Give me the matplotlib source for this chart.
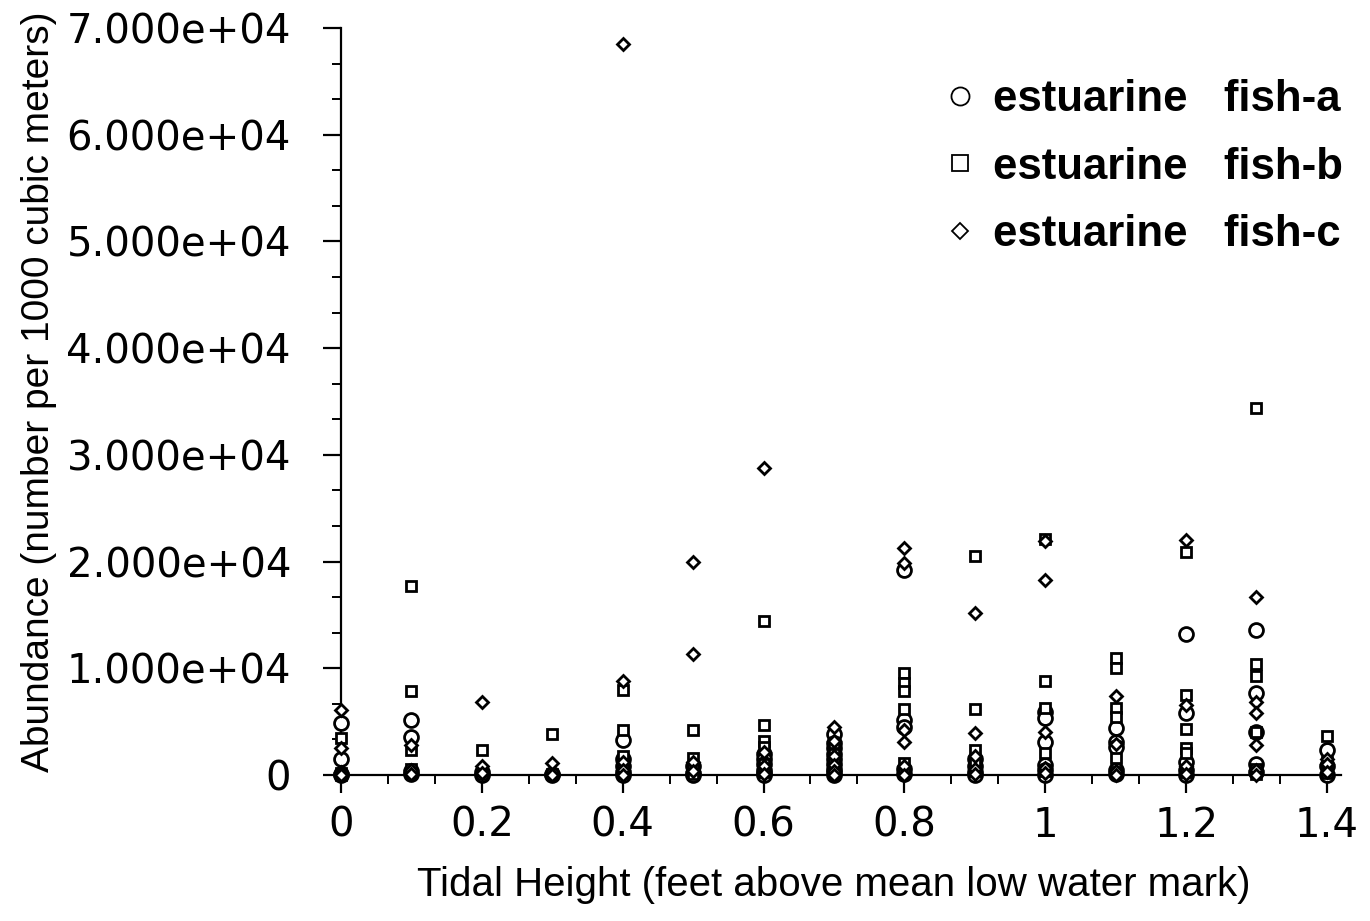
import matplotlib
matplotlib.use("Agg")
import matplotlib.pyplot as plt
from matplotlib.lines import Line2D
from matplotlib.ticker import MultipleLocator, FuncFormatter, FixedLocator

# ---- data (tidal height in feet, abundance per 1000 m^3) ----
fish_a = {
    0.0: [4900, 1500, 100, 0],
    0.1: [5200, 3600, 400, 100],
    0.2: [300, 0],
    0.3: [100, 0],
    0.4: [3300, 1500, 800, 300, 0],
    0.5: [800, 200, 0],
    0.6: [2000, 1500, 1000, 500, 200, 0],
    0.7: [3800, 3000, 2500, 2000, 1500, 1000, 600, 300, 0],
    0.8: [19200, 5200, 4500, 600, 100],
    0.9: [1500, 800, 300, 0],
    1.0: [5900, 5300, 3100, 900, 500, 0],
    1.1: [4400, 3100, 2600, 500, 100],
    1.2: [13200, 5800, 1200, 500, 0],
    1.3: [13600, 7700, 4000, 1000, 300],
    1.4: [2300, 800, 0],
}
fish_b = {
    0.0: [3500, 200, 0],
    0.1: [17700, 7900, 2300, 600, 200],
    0.2: [2300, 100],
    0.3: [3800, 50],
    0.4: [8000, 4200, 1800, 1000, 200],
    0.5: [4200, 1600, 700, 100],
    0.6: [14400, 4700, 3200, 2600, 1000, 300],
    0.7: [3000, 2000, 1200, 600, 100],
    0.8: [9600, 8600, 7900, 6200, 1100, 200],
    0.9: [20500, 6200, 2300, 1200, 400],
    1.0: [22100, 8800, 6300, 2100, 400],
    1.1: [11000, 10000, 6300, 5400, 1600, 300],
    1.2: [20900, 7500, 4300, 2500, 2100, 300],
    1.3: [34400, 10400, 9300, 4000, 600, 100],
    1.4: [3700, 1200, 200],
}
fish_c = {
    0.0: [6100, 2500, 300, 0],
    0.1: [2800, 500, 100],
    0.2: [6800, 800, 200],
    0.3: [1150, 0],
    0.4: [68500, 8800, 1200, 500, 0],
    0.5: [20000, 11300, 1200, 400],
    0.6: [28800, 2200, 800, 100],
    0.7: [4500, 3200, 1800, 900, 400, 0],
    0.8: [21300, 19900, 4200, 3100, 800, 0],
    0.9: [15200, 3900, 1800, 600, 100],
    1.0: [21900, 18300, 4000, 700, 200],
    1.1: [7400, 2900, 400, 0],
    1.2: [22000, 6600, 800, 100],
    1.3: [16700, 6800, 5800, 2800, 500, 0],
    1.4: [1500, 1000, 300],
}
series_labels = ["estuarine   fish-a", "estuarine   fish-b", "estuarine   fish-c"]
x_tick_values = [0, 0.2, 0.4, 0.6, 0.8, 1.0, 1.2, 1.4]
x_tick_labels = ["0", "0.2", "0.4", "0.6", "0.8", "1", "1.2", "1.4"]


def flatten(d):
    xs, ys = [], []
    for k, vals in d.items():
        for v in vals:
            xs.append(k)
            ys.append(v)
    return xs, ys


fig = plt.figure(figsize=(13.7, 9.21), dpi=100)
ax = fig.add_axes([341 / 1370, (921 - 775) / 921, 1000 / 1370, 747 / 921])

styles = [
    dict(marker="o", ms=10, mew=2.0),
    dict(marker="s", ms=7.5, mew=2.0),
    dict(marker="D", ms=6, mew=2.0),
]
for d, st in zip([fish_a, fish_b, fish_c], styles):
    xs, ys = flatten(d)
    ax.plot(xs, ys, linestyle="none", mfc="white", mec="black",
            clip_on=False, zorder=3, **st)

ax.set_xlim(0, 1.42)
ax.set_ylim(0, 70000)

for s in ["top", "right"]:
    ax.spines[s].set_visible(False)
for s in ["left", "bottom"]:
    ax.spines[s].set_linewidth(1.6)
ax.spines["bottom"].set_zorder(2)

ax.xaxis.set_major_locator(FixedLocator(x_tick_values))
ax.set_xticklabels(x_tick_labels)
ax.xaxis.set_minor_locator(FixedLocator([i * 0.2 / 3 for i in range(22) if i % 3 != 0]))
ax.yaxis.set_major_locator(MultipleLocator(10000))
ax.yaxis.set_minor_locator(MultipleLocator(10000 / 3))
ax.yaxis.set_major_formatter(FuncFormatter(lambda v, p: "0" if v == 0 else f"{v:.3e}"))

ax.tick_params(axis="both", which="major", direction="out", length=13, width=1.6)
ax.tick_params(axis="both", which="minor", direction="out", length=6.5, width=1.4)
ax.tick_params(axis="y", which="major", pad=23)
ax.tick_params(axis="x", which="major", pad=9)
for lab in ax.get_xticklabels() + ax.get_yticklabels():
    lab.set_fontfamily("DejaVu Sans")
    lab.set_fontsize(29)

ax.set_ylabel("Abundance (number per 1000 cubic meters)", fontfamily="Liberation Sans", fontsize=28)
ax.yaxis.set_label_coords(-0.284, 0.513)
ax.set_xlabel("Tidal Height (feet above mean low water mark)", fontfamily="Liberation Sans", fontsize=29)
ax.xaxis.set_label_coords(0.493, -0.122)

handles = [
    Line2D([], [], linestyle="none", marker="o", ms=13, mfc="white", mec="black", mew=1.3),
    Line2D([], [], linestyle="none", marker="s", ms=11, mfc="white", mec="black", mew=1.3),
    Line2D([], [], linestyle="none", marker="D", ms=8.5, mfc="white", mec="black", mew=1.3),
]
leg = ax.legend(handles, series_labels, loc="upper right",
                bbox_to_anchor=(1343 / 1370, (921 - 79) / 921), bbox_transform=fig.transFigure,
                frameon=False, handlelength=0.8, handletextpad=0.35, labelspacing=0.61,
                borderpad=0, borderaxespad=0,
                prop=dict(family="Liberation Sans", weight="bold", size=31.5))

fig.savefig("out.png", dpi=100)
